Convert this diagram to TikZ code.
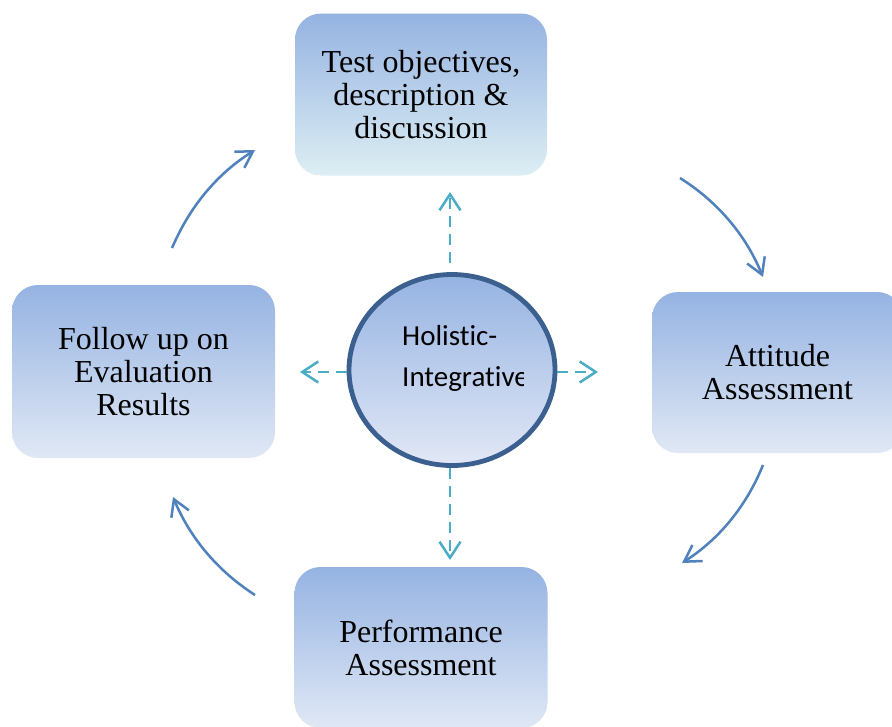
\documentclass[tikz,border=0pt]{standalone}
\usepackage{fontspec}
\setmainfont{Liberation Serif}
\newfontfamily\calibrifont[Ligatures=NoCommon]{Carlito}
\usetikzlibrary{arrows.meta,shapes.geometric}

\definecolor{boxtop}{RGB}{149,179,226}
\definecolor{boxbot}{RGB}{224,232,245}
\definecolor{topbot}{RGB}{221,238,243}
\definecolor{ringc}{RGB}{59,96,144}
\definecolor{cyc}{RGB}{75,172,198}
\definecolor{arrc}{RGB}{79,129,189}

\tikzset{
  stagebox/.style={rectangle, rounded corners=26pt, inner sep=0pt,
    top color=boxtop, bottom color=boxbot, draw=none, align=center,
    font=\fontsize{32}{33}\selectfont},
  hubnode/.style={ellipse, draw=ringc, line width=4.8pt, inner sep=0pt,
    top color=boxtop, bottom color={rgb,255:red,226;green,232;blue,246},
    minimum width=206pt, minimum height=191pt},
  dasharr/.style={draw=cyc, line width=2.5pt, dash pattern=on 11pt off 7pt,
    -{Straight Barb[length=16pt,width=21pt,line width=2.5pt]}},
  cyclearr/.style={draw=arrc, line width=2.5pt,
    -{Straight Barb[length=16pt,width=19pt,line width=2.5pt]}}
}

\begin{document}
\begin{tikzpicture}[x=1pt,y=-1pt]
\clip (0,0) rectangle (892,726);
\fill[white] (0,0) rectangle (892,726);

% stage boxes
\node[stagebox, top color=boxtop, bottom color=topbot,
      minimum width=252pt, minimum height=162pt] (test) at (421,94.5)
      {Test objectives,\\description \&\\discussion};
\node[stagebox, minimum width=251pt, minimum height=161pt] (att) at (777.5,372.5)
      {Attitude\\Assessment};
\node[stagebox, minimum width=253pt, minimum height=161pt] (perf) at (421,647.5)
      {Performance\\Assessment};
\node[stagebox, minimum width=263pt, minimum height=173pt] (follow) at (143.5,371.5)
      {Follow up on\\Evaluation\\Results};

% central hub
\node[hubnode] (hub) at (452,370) {};
\begin{scope}
  \clip (340,250) rectangle (523,470);
  \node[anchor=west, inner sep=0pt, align=left,
        font=\calibrifont\fontsize{29}{41}\selectfont] (hubtext) at (402,358)
        {Holistic-\\Integrative};
\end{scope}

% dashed arrows from hub
\coordinate (tipU) at (450,192);
\coordinate (tipD) at (450,560);
\coordinate (tipL) at (300,372);
\coordinate (tipR) at (598,372);
\draw[dasharr, shorten <=9pt] (hub.north -| tipU) -- (tipU);
\draw[dasharr] (hub.south -| tipD) -- (tipD);
\draw[dasharr] (hub.west |- tipL) -- (tipL);
\draw[dasharr] (hub.east |- tipR) -- (tipR);

% cycle arrows
\coordinate (a1s) at (172,248); \coordinate (a1e) at (255,150);
\coordinate (a2s) at (680,178); \coordinate (a2e) at (763,277);
\coordinate (a3s) at (763,465); \coordinate (a3e) at (682,563);
\coordinate (a4s) at (255,595); \coordinate (a4e) at (173,497);
\draw[cyclearr] (a1s) .. controls (190,206) and (217.7,173.3) .. (a1e);
\draw[cyclearr] (a2s) .. controls (718,202) and (745.7,235) .. (a2e);
\draw[cyclearr] (a3s) .. controls (746.3,506.3) and (719.3,539) .. (a3e);
\draw[cyclearr] (a4s) .. controls (217.7,571) and (190.3,538.3) .. (a4e);
\end{tikzpicture}
\end{document}
